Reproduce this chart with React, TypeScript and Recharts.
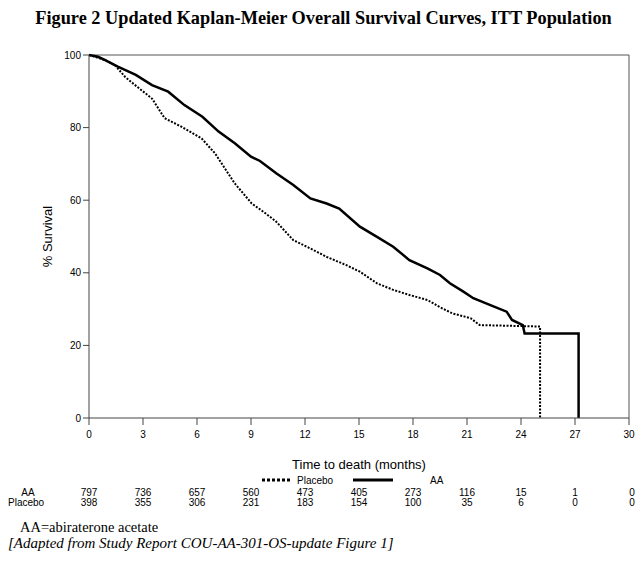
import React from 'react';
import {
  LineChart,
  Line,
  XAxis,
  YAxis,
  ReferenceLine,
  Label,
} from 'recharts';

// Kaplan-Meier curves (months, % survival)
const aaMonths = [0, 0.5, 0.9, 1.6, 2.6, 3.5, 4.4, 5.3, 6.3, 7.2, 8.1, 9.0, 9.5, 10.4, 11.35, 12.3, 13.2, 13.9, 15.05, 16.0, 16.9, 17.8, 18.8, 19.5, 20.05, 20.8, 21.35, 22.3, 23.2, 23.5, 24.1, 24.2, 27.2, 27.2];
const aaSurvival = [100, 99.5, 98.6, 96.8, 94.5, 91.7, 89.9, 86.2, 83, 78.9, 75.7, 72, 70.8, 67.4, 64.2, 60.5, 59.1, 57.7, 52.7, 49.9, 47.2, 43.5, 41.2, 39.4, 37.1, 34.8, 33, 31.1, 29.3, 27, 25.6, 23.3, 23.3, 0];

const placeboMonths = [0, 0.9, 1.44, 2.0, 2.56, 3.5, 4.2, 5.15, 6.26, 7.0, 8.1, 9.04, 9.8, 10.4, 11.35, 12.3, 13.2, 14.3, 15.05, 16.0, 16.9, 17.8, 18.8, 19.5, 20.2, 21.2, 21.7, 25.06, 25.06];
const placeboSurvival = [100, 98.6, 97.2, 94, 91.7, 88, 82.6, 80.2, 77, 72.9, 64.6, 59.1, 56.4, 54.1, 49, 46.7, 44.4, 42.1, 40.3, 37.1, 35.3, 33.9, 32.5, 30.5, 28.8, 27.5, 25.6, 25.2, 0];

const xTicks = [0, 3, 6, 9, 12, 15, 18, 21, 24, 27, 30];
const yTicks = [0, 20, 40, 60, 80, 100];

// numbers at risk
const atRiskAA = [797, 736, 657, 560, 473, 405, 273, 116, 15, 1, 0];
const atRiskPlacebo = [398, 355, 306, 231, 183, 154, 100, 35, 6, 0, 0];

const aaData = aaMonths.map((m, i) => ({ month: m, value: aaSurvival[i] }));
const placeboData = placeboMonths.map((m, i) => ({ month: m, value: placeboSurvival[i] }));

const sans = '"Liberation Sans", Arial, sans-serif';
const serif = '"Liberation Serif", "Times New Roman", serif';

const PLOT_LEFT = 89;
const PLOT_RIGHT = 629;
const monthToX = (m: number) => PLOT_LEFT + ((PLOT_RIGHT - PLOT_LEFT) * m) / 30;

const App: React.FC = () => {
  return (
    <div style={{ position: 'absolute', left: 0, top: 0, width: 640, height: 567, background: '#fff' }}>
      <div
        style={{
          position: 'absolute',
          top: 8,
          left: 0,
          width: 640,
          textAlign: 'center',
          fontFamily: serif,
          fontWeight: 'bold',
          fontSize: 18.3,
          paddingLeft: 7,
          boxSizing: 'border-box',
          whiteSpace: 'nowrap',
        }}
      >
        Figure 2 Updated Kaplan-Meier Overall Survival Curves, ITT Population
      </div>

      <div style={{ position: 'absolute', left: 0, top: 0 }}>
        <LineChart width={640} height={567} margin={{ top: 55, right: 11, bottom: 94, left: 0 }}>
          <XAxis
            type="number"
            dataKey="month"
            domain={[0, 30]}
            ticks={xTicks}
            allowDuplicatedCategory={false}
            height={55}
            stroke="#444"
            tickLine={{ stroke: '#444' }}
            tickSize={7}
            tickMargin={6}
            tick={{ fill: '#000', fontSize: 10, fontFamily: sans }}
          >
            <Label
              value="Time to death (months)"
              position="insideBottom"
              offset={4}
              style={{ fontSize: 13, fontFamily: sans, fill: '#000' }}
            />
          </XAxis>
          <YAxis
            type="number"
            domain={[0, 100]}
            ticks={yTicks}
            width={89}
            stroke="#444"
            tickSize={6}
            tick={{ fill: '#000', fontSize: 10, fontFamily: sans }}
          >
            <Label
              value="% Survival"
              angle={-90}
              position="insideLeft"
              offset={47}
              style={{ fontSize: 13, fontFamily: sans, fill: '#000', textAnchor: 'middle' }}
            />
          </YAxis>
          <ReferenceLine y={100} stroke="#555" strokeWidth={1} />
          <ReferenceLine x={30} stroke="#555" strokeWidth={1} />
          <Line
            data={placeboData}
            dataKey="value"
            name="Placebo"
            type="linear"
            stroke="#000"
            strokeWidth={2}
            strokeDasharray="2 1.5"
            dot={false}
            activeDot={false}
            isAnimationActive={false}
          />
          <Line
            data={aaData}
            dataKey="value"
            name="AA"
            type="linear"
            stroke="#000"
            strokeWidth={2.5}
            dot={false}
            activeDot={false}
            isAnimationActive={false}
          />
        </LineChart>
      </div>

      {/* legend */}
      <svg width={640} height={14} style={{ position: 'absolute', left: 0, top: 473 }}>
        <line x1={262} y1={7} x2={292} y2={7} stroke="#000" strokeWidth={3} strokeDasharray="3 2" />
        <text x={297} y={11} fontFamily={sans} fontSize={10} fill="#000">Placebo</text>
        <line x1={353} y1={7} x2={393} y2={7} stroke="#000" strokeWidth={3} />
        <text x={430} y={11} fontFamily={sans} fontSize={10} fill="#000">AA</text>
      </svg>

      {/* numbers at risk table */}
      <div style={{ position: 'absolute', top: 488, left: 0, width: 640, height: 24, fontFamily: sans, fontSize: 10, lineHeight: '10px' }}>
        <div style={{ position: 'absolute', left: 18, top: 0, width: 20, textAlign: 'center' }}>AA</div>
        <div style={{ position: 'absolute', left: 8, top: 10 }}>Placebo</div>
        {xTicks.map((t, i) => (
          <React.Fragment key={t}>
            <div style={{ position: 'absolute', left: monthToX(t) - 15 + (t === 30 ? 3 : 0), top: 0, width: 30, textAlign: 'center' }}>
              {atRiskAA[i]}
            </div>
            <div style={{ position: 'absolute', left: monthToX(t) - 15 + (t === 30 ? 3 : 0), top: 10, width: 30, textAlign: 'center' }}>
              {atRiskPlacebo[i]}
            </div>
          </React.Fragment>
        ))}
      </div>

      <div style={{ position: 'absolute', top: 519, left: 20, fontFamily: serif, fontSize: 14.5, whiteSpace: 'nowrap' }}>
        AA=abiraterone acetate
      </div>
      <div style={{ position: 'absolute', top: 535, left: 8, fontFamily: serif, fontSize: 15, fontStyle: 'italic', whiteSpace: 'nowrap' }}>
        [Adapted from Study Report COU-AA-301-OS-update Figure 1]
      </div>
    </div>
  );
};

export default App;
